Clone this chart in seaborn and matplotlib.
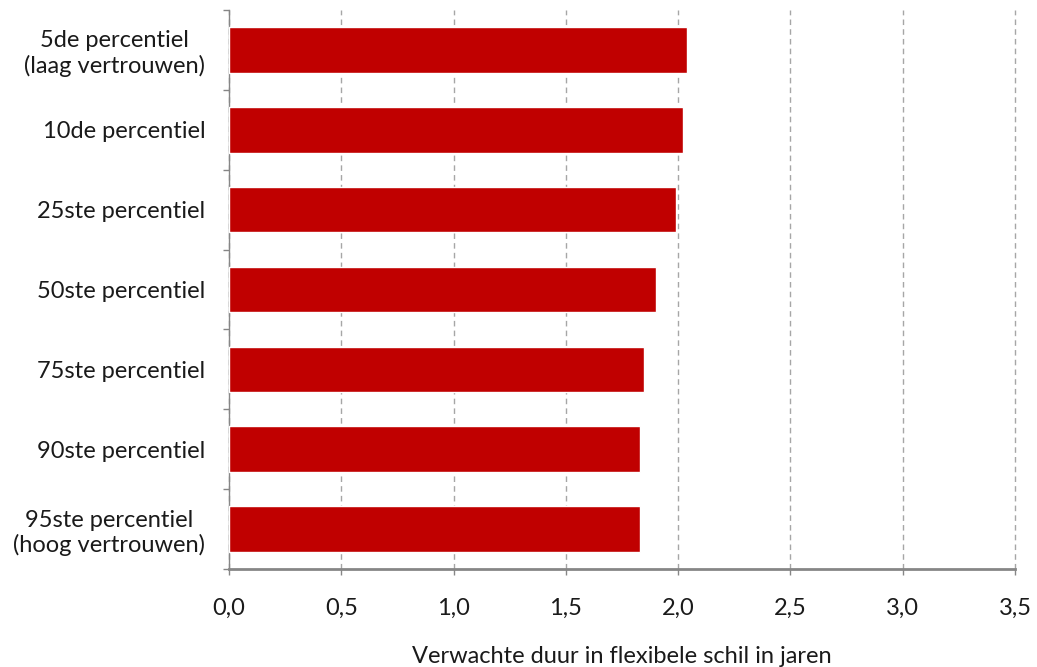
import matplotlib
matplotlib.use("Agg")
import matplotlib.pyplot as plt
import seaborn as sns
import pandas as pd
from matplotlib.ticker import FixedLocator, FuncFormatter

categories = ["5de percentiel\n(laag vertrouwen)", "10de percentiel", "25ste percentiel",
              "50ste percentiel", "75ste percentiel", "90ste percentiel",
              "95ste percentiel\n(hoog vertrouwen)"]
values = [2.04, 2.02, 1.99, 1.90, 1.85, 1.83, 1.83]
xticks = [0.0, 0.5, 1.0, 1.5, 2.0, 2.5, 3.0, 3.5]
xlabel = "Verwachte duur in flexibele schil in jaren"

sns.set_theme(style="white")
plt.rcParams['font.family'] = ['Lato', 'DejaVu Sans']

df = pd.DataFrame({"cat": categories, "val": values})

fig = plt.figure(figsize=(10.37, 6.67), dpi=100)
ax = fig.add_axes([229/1037, 1-569/667, (1015-229)/1037, (569-10)/667])
sns.barplot(data=df, x="val", y="cat", orient="h", color="#C00000",
            saturation=1, width=0.57, ax=ax, zorder=3)

ax.set_xlim(0, 3.5)
ax.set_ylim(6.5, -0.5)
ax.set_xticks(xticks)
ax.xaxis.set_major_formatter(FuncFormatter(lambda v, p: f"{v:.1f}".replace(".", ",")))
ax.grid(axis="x", color="#A6A6A6", linestyle=(0, (4, 3)), linewidth=1, zorder=0)
ax.grid(axis="y", visible=False)
for gl in ax.get_xgridlines():
    gl.set_clip_on(False)

ax.yaxis.set_minor_locator(FixedLocator([i - 0.5 for i in range(8)]))
ax.tick_params(axis="y", which="major", length=0, pad=17, labelsize=17, labelcolor="#1a1a1a")
ax.tick_params(axis="y", which="minor", length=4.5, width=1, color="#868686", direction="out", left=True)
ax.tick_params(axis="x", which="major", length=4.5, width=1, color="#868686", direction="out",
               bottom=True, pad=16.5, labelsize=17, labelcolor="#1a1a1a")
for lab in ax.get_yticklabels():
    lab.set_horizontalalignment("right")
    lab.set_multialignment("center")

for s in ["top", "right"]:
    ax.spines[s].set_visible(False)
ax.spines["left"].set_color("#868686")
ax.spines["left"].set_linewidth(1)
ax.spines["bottom"].set_color("#868686")
ax.spines["bottom"].set_linewidth(2)

ax.set_ylabel("")
ax.set_xlabel(xlabel, fontsize=17, color="#1a1a1a", labelpad=19)

fig.savefig("out.png", dpi=100)
